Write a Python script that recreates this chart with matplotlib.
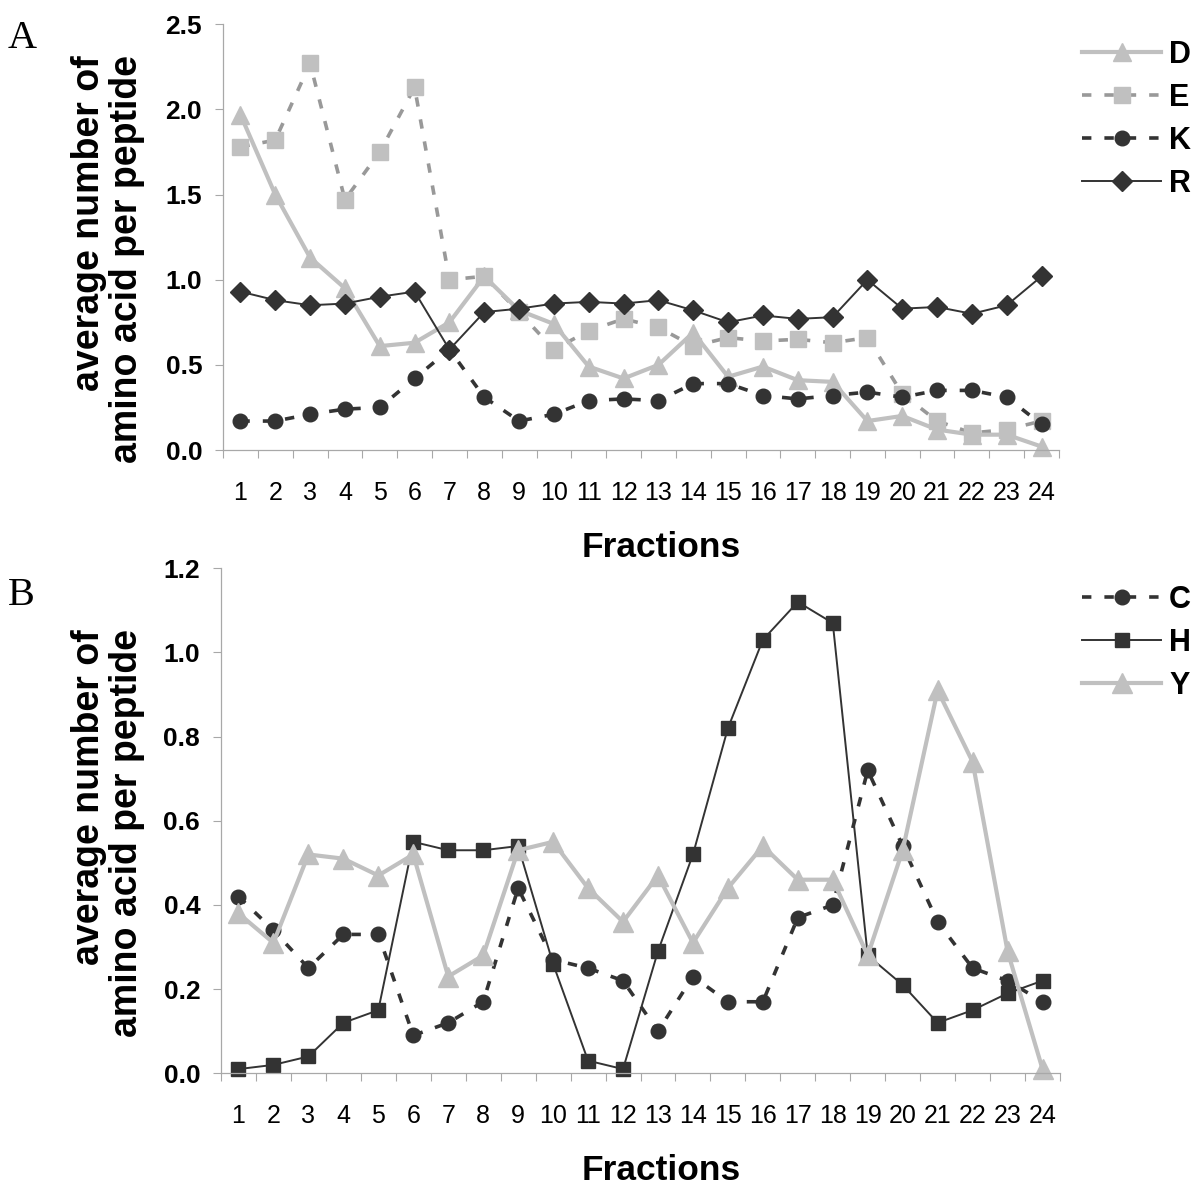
import matplotlib
matplotlib.use("Agg")
import matplotlib.pyplot as plt

# ---------------- data ----------------
fractions = list(range(1, 25))
frac_labels = [str(f) for f in fractions]

# Panel A
D_vals = [1.97, 1.50, 1.13, 0.95, 0.61, 0.63, 0.75, 1.02, 0.82, 0.74, 0.49, 0.42,
          0.50, 0.69, 0.43, 0.49, 0.41, 0.40, 0.17, 0.20, 0.12, 0.09, 0.09, 0.02]
E_vals = [1.78, 1.82, 2.27, 1.47, 1.75, 2.13, 1.00, 1.02, 0.81, 0.59, 0.70, 0.77,
          0.72, 0.61, 0.66, 0.64, 0.65, 0.63, 0.66, 0.33, 0.17, 0.10, 0.12, 0.17]
K_vals = [0.17, 0.17, 0.21, 0.24, 0.25, 0.42, 0.59, 0.31, 0.17, 0.21, 0.29, 0.30,
          0.29, 0.39, 0.39, 0.32, 0.30, 0.32, 0.34, 0.31, 0.35, 0.35, 0.31, 0.15]
R_vals = [0.93, 0.88, 0.85, 0.86, 0.90, 0.93, 0.59, 0.81, 0.83, 0.86, 0.87, 0.86,
          0.88, 0.82, 0.75, 0.79, 0.77, 0.78, 1.00, 0.83, 0.84, 0.80, 0.85, 1.02]

# Panel B
C_vals = [0.42, 0.34, 0.25, 0.33, 0.33, 0.09, 0.12, 0.17, 0.44, 0.27, 0.25, 0.22,
          0.10, 0.23, 0.17, 0.17, 0.37, 0.40, 0.72, 0.54, 0.36, 0.25, 0.22, 0.17]
H_vals = [0.01, 0.02, 0.04, 0.12, 0.15, 0.55, 0.53, 0.53, 0.54, 0.26, 0.03, 0.01,
          0.29, 0.52, 0.82, 1.03, 1.12, 1.07, 0.28, 0.21, 0.12, 0.15, 0.19, 0.22]
Y_vals = [0.38, 0.31, 0.52, 0.51, 0.47, 0.52, 0.23, 0.28, 0.53, 0.55, 0.44, 0.36,
          0.47, 0.31, 0.44, 0.54, 0.46, 0.46, 0.28, 0.53, 0.91, 0.74, 0.29, 0.01]

series_A = ["D", "E", "K", "R"]
series_B = ["C", "H", "Y"]

# ---------------- style ----------------
LIGHT = "#c0c0c0"
MID = "#999999"
DARK = "#333333"
SPINE = "#a8a8a8"
SANS = "Liberation Sans"
SERIF = "Liberation Serif"

W, H = 1200, 1188
fig = plt.figure(figsize=(W / 100, H / 100), dpi=100)


def px_axes(left, right, top, bottom):
    return fig.add_axes([left / W, 1 - bottom / H, (right - left) / W, (bottom - top) / H])


def style_axes(ax, ylim, yticks):
    ax.set_xlim(0.5, 24.5)
    ax.set_ylim(*ylim)
    ax.set_yticks(yticks)
    ax.set_yticklabels([f"{t:.1f}" for t in yticks], fontfamily=SANS,
                       fontweight="bold", fontsize=19)
    ax.set_xticks(fractions)
    ax.set_xticklabels(frac_labels, fontfamily=SANS, fontsize=18)
    ax.set_xticks([i + 0.5 for i in range(0, 25)], minor=True)
    ax.tick_params(axis="x", which="major", length=0, pad=22)
    ax.tick_params(axis="x", which="minor", length=6, width=0.8,
                   color=SPINE, direction="out")
    ax.tick_params(axis="y", which="major", length=6, width=0.8,
                   color=SPINE, direction="out", pad=9)
    for s in ["top", "right"]:
        ax.spines[s].set_visible(False)
    for s in ["left", "bottom"]:
        ax.spines[s].set_color(SPINE)
        ax.spines[s].set_linewidth(0.9)
    ax.set_facecolor("none")


# ---------------- Panel A ----------------
axA = px_axes(223, 1059, 24.3, 450)
style_axes(axA, (0, 2.5), [0.0, 0.5, 1.0, 1.5, 2.0, 2.5])

dash = (2.6, 3.6)
lE, = axA.plot(fractions, E_vals, color=MID, lw=2.6, dashes=dash, marker="s",
               ms=11.5, mfc=LIGHT, mec=LIGHT, label="E", clip_on=False)
lD, = axA.plot(fractions, D_vals, color=LIGHT, lw=3.0, marker="^", ms=13.5,
               mfc=LIGHT, mec=LIGHT, label="D", clip_on=False)
lK, = axA.plot(fractions, K_vals, color=DARK, lw=2.6, dashes=dash, marker="o",
               ms=10.5, mfc=DARK, mec=DARK, label="K", clip_on=False)
lR, = axA.plot(fractions, R_vals, color=DARK, lw=1.4, marker="D", ms=10,
               mfc=DARK, mec=DARK, label="R", clip_on=False)

legA = fig.legend(handles=[lD, lE, lK, lR], labels=series_A,
                  loc="upper left", bbox_to_anchor=(1082 / W, 1 - 40 / H),
                  frameon=False, handlelength=2.6, handletextpad=0.25,
                  labelspacing=0.42, borderaxespad=0, borderpad=0,
                  prop={"family": SANS, "weight": "bold", "size": 22})

# ---------------- Panel B ----------------
axB = px_axes(221, 1060, 568.3, 1073.3)
style_axes(axB, (0, 1.2), [0.0, 0.2, 0.4, 0.6, 0.8, 1.0, 1.2])

lC, = axB.plot(fractions, C_vals, color=DARK, lw=2.6, dashes=dash, marker="o",
               ms=10.5, mfc=DARK, mec=DARK, label="C", clip_on=False)
lH, = axB.plot(fractions, H_vals, color=DARK, lw=1.4, marker="s", ms=10.5,
               mfc=DARK, mec=DARK, label="H", clip_on=False)
lY, = axB.plot(fractions, Y_vals, color=LIGHT, lw=3.0, marker="^", ms=14,
               mfc=LIGHT, mec=LIGHT, label="Y", clip_on=False)

legB = fig.legend(handles=[lC, lH, lY], labels=series_B,
                  loc="upper left", bbox_to_anchor=(1082 / W, 1 - 585 / H),
                  frameon=False, handlelength=2.6, handletextpad=0.25,
                  labelspacing=0.42, borderaxespad=0, borderpad=0,
                  prop={"family": SANS, "weight": "bold", "size": 22})

# ---------------- texts ----------------
ylab = "average number of\namino acid per peptide"
fig.text(108 / W, 1 - 259 / H, ylab, rotation=90, ha="center", va="center",
         multialignment="right", fontfamily=SANS, fontweight="bold",
         fontsize=27, linespacing=1.05)
fig.text(108 / W, 1 - 833 / H, ylab, rotation=90, ha="center", va="center",
         multialignment="right", fontfamily=SANS, fontweight="bold",
         fontsize=27, linespacing=1.05)

fig.text(661.7 / W, 1 - 556.7 / H, "Fractions", ha="center", va="baseline",
         fontfamily=SANS, fontweight="bold", fontsize=25.5)
fig.text(661.7 / W, 1 - 1180 / H, "Fractions", ha="center", va="baseline",
         fontfamily=SANS, fontweight="bold", fontsize=25.5)

fig.text(8 / W, 1 - 48 / H, "A", ha="left", va="baseline",
         fontfamily=SERIF, fontsize=29)
fig.text(8 / W, 1 - 605 / H, "B", ha="left", va="baseline",
         fontfamily=SERIF, fontsize=29)

fig.savefig("out.png", dpi=100, facecolor="white")
